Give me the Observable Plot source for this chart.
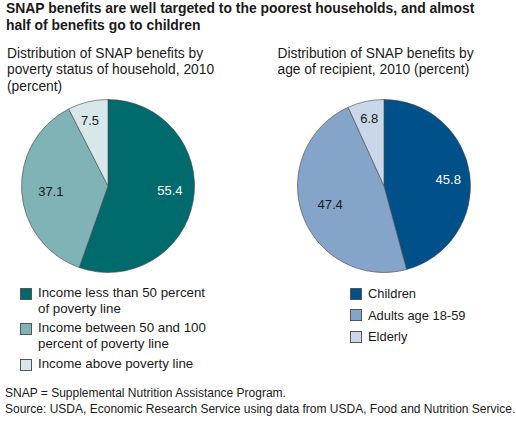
<!DOCTYPE html>
<html><head><meta charset="utf-8">
<script src="https://cdn.jsdelivr.net/npm/d3@7"></script>
<script src="https://cdn.jsdelivr.net/npm/@observablehq/plot@0.6"></script>
<style>
html,body{margin:0;padding:0;background:#fff;}
body{position:relative;width:516px;height:429px;overflow:hidden;font-family:"Liberation Sans",Arial,sans-serif;color:#1a1a1a;}
.t{position:absolute;white-space:pre;}
.sw{position:absolute;width:10px;height:10px;border:0.75px solid #555;}
.pie{position:absolute;}
</style></head><body>
<script>
const titleLines = ["SNAP benefits are well targeted to the poorest households, and almost","half of benefits go to children"];
const povertyHeading = ["Distribution of SNAP benefits by","poverty status of household, 2010","(percent)"];
const ageHeading = ["Distribution of SNAP benefits by","age of recipient, 2010 (percent)"];
const povertyCategories = ["Income less than 50 percent of poverty line","Income between 50 and 100 percent of poverty line","Income above poverty line"];
const povertyValues = [55.4,37.1,7.5];
const povertyColors = ["#006a6c","#7fb3b6","#d8e8ea"];
const ageCategories = ["Children","Adults age 18-59","Elderly"];
const ageValues = [45.8,47.4,6.8];
const ageColors = ["#00508a","#84a5c9","#c9d7e9"];
const notes = ["SNAP = Supplemental Nutrition Assistance Program.","Source: USDA, Economic Research Service using data from USDA, Food and Nutrition Service."];

const FONT = '"Liberation Sans",Arial,sans-serif';
function text(s,x,y,size,weight){
  const d=document.createElement("div");d.className="t";d.textContent=s;
  d.style.cssText+=`left:${x}px;top:${y}px;font-size:${size}px;line-height:16px;font-weight:${weight||400}`;
  document.body.appendChild(d);return d;
}
function pie(categories,values,colors,labelColors,nudges,radial,left,top){
  const box=190,R=86.5,d=box/2/R;
  const arcs=d3.pie().sort(null)(values);
  const rows=categories.map((c,i)=>({c,v:values[i],a:arcs[i]}));
  const mid=r=>(r.a.startAngle+r.a.endAngle)/2;
  const wedges=Plot.dot(rows,{x:()=>0,y:()=>0,fill:"c",render(index,scales,vals){
    const g=d3.create("svg:g");
    const cx=scales.x(0),cy=scales.y(0),rad=Math.abs(scales.x(1)-scales.x(0));
    const arc=d3.arc().innerRadius(0).outerRadius(rad);
    for(const i of index){
      g.append("path").attr("transform",`translate(${cx},${cy})`).attr("d",arc(rows[i].a))
       .attr("fill",vals.fill[i]).attr("stroke","#444").attr("stroke-width",0.6);
    }
    return g.node();
  }});
  const labels=rows.map((r,i)=>Plot.text([r],{
    x:q=>radial[i]*Math.sin(mid(q)),y:q=>radial[i]*Math.cos(mid(q)),
    text:q=>q.v.toFixed(1),fill:labelColors[i],fontSize:13,dx:nudges[i][0],dy:nudges[i][1]
  }));
  const chart=Plot.plot({width:box,height:box,margin:0,
    x:{domain:[-d,d],axis:null},y:{domain:[-d,d],axis:null},
    color:{domain:categories,range:colors},
    style:{fontFamily:FONT,background:"transparent"},
    marks:[wedges,...labels]});
  chart.classList.add("pie");
  chart.style.left=left+"px";chart.style.top=top+"px";
  document.body.appendChild(chart);
  return chart.scale("color");
}
titleLines.forEach((s,i)=>text(s,6,i*17,13.9,700));
povertyHeading.forEach((s,i)=>text(s,7,46+i*16.3,13.8));
ageHeading.forEach((s,i)=>text(s,277.5,46+i*16.3,13.8));

const c1=pie(povertyCategories,povertyValues,povertyColors,["#fff","#1a1a1a","#1a1a1a"],[[0,-6],[1,1],[-4,-5]],[0.72,0.68,0.72],12.5,90.5);
const c2=pie(ageCategories,ageValues,ageColors,["#fff","#1a1a1a","#1a1a1a"],[[2,2],[1,-2],[-2,-7]],[0.72,0.68,0.72],288.7,91);

function swatch(color,x,y){const s=document.createElement("div");s.className="sw";s.style.left=x+"px";s.style.top=y+"px";s.style.background=color;document.body.appendChild(s);}
swatch(c1.apply(povertyCategories[0]),20,287.5);
text("Income less than 50 percent",38,285,13.3);text("of poverty line",38,300.5,13.3);
swatch(c1.apply(povertyCategories[1]),20,322.5);
text("Income between 50 and 100",38,320,13.3);text("percent of poverty line",38,335.5,13.3);
swatch(c1.apply(povertyCategories[2]),20,358.5);
text(povertyCategories[2],38,356,13.3);
ageCategories.forEach((s,i)=>{swatch(c2.apply(s),350,287.5+i*21.5);text(s,368,286+i*21.5,12.9);});
notes.forEach((s,i)=>text(s,5,385+i*16,12));
</script>
</body></html>
